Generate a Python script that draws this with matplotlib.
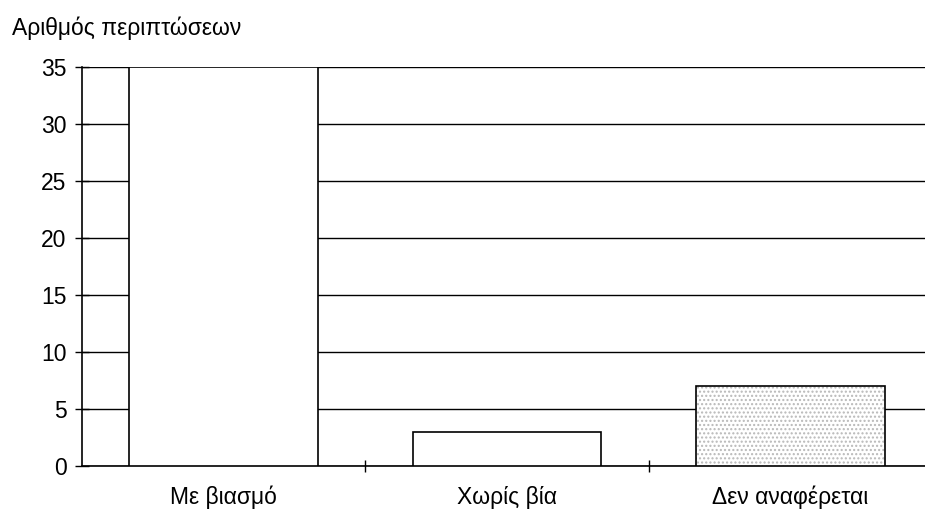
import matplotlib.pyplot as plt

categories = ["Με βιασμό", "Χωρίς βία", "Δεν αναφέρεται"]
values = [35, 3, 7]
y_ticks = [0, 5, 10, 15, 20, 25, 30, 35]

plt.rcParams["font.family"] = ["Liberation Sans", "DejaVu Sans"]

fig = plt.figure(figsize=(9.25, 5.09), dpi=100)
ax = fig.add_axes([0.0886, 0.0845, 0.9114, 0.7835])

x = list(range(len(categories)))
ax.set_axisbelow(True)
ax.yaxis.grid(True, color="black", linewidth=1.0)

# first two bars plain white, the last one with a light speckle
ax.bar(x[:2], values[:2], width=0.665, color="white", edgecolor="black", linewidth=1.2, zorder=3)
ax.bar(x[2], values[2], width=0.665, color="white", edgecolor="#b8b8b8", hatch="....", linewidth=0, zorder=3)
ax.bar(x[2], values[2], width=0.665, color="none", edgecolor="black", linewidth=1.2, zorder=4)

ax.set_xlim(-0.5, 2.475)
ax.set_ylim(0, 35)
ax.set_yticks(y_ticks)
ax.set_xticks([0.5, 1.5])
ax.set_xticklabels([])
ax.tick_params(axis="x", direction="inout", length=8, width=1.0)
ax.tick_params(axis="y", direction="inout", length=10, width=1.0, labelsize=16.5, pad=6)

for xi, label in zip(x, categories):
    ax.text(xi, -2.75, label, ha="center", va="center", fontsize=16.5)

for side in ["top", "right"]:
    ax.spines[side].set_visible(False)
for side in ["left", "bottom"]:
    ax.spines[side].set_linewidth(1.2)

fig.text(0.013, 0.945, "Αριθμός περιπτώσεων", ha="left", va="center", fontsize=16.5)

fig.savefig("out.png", dpi=100)
